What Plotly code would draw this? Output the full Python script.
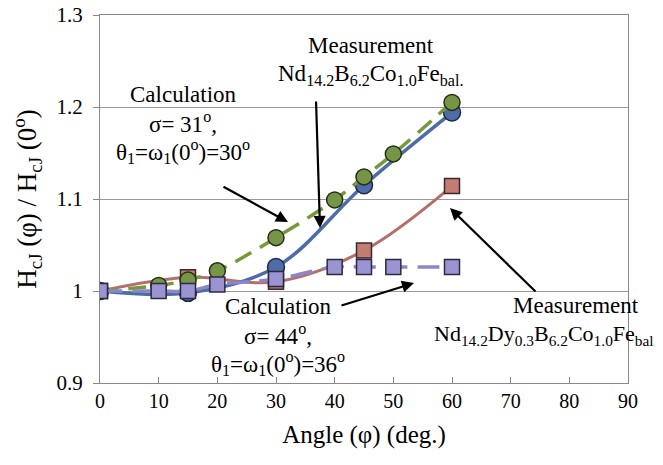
import plotly.graph_objects as go

# Data
meas1_x = [0, 15, 30, 45, 60]
meas1_y = [1.000, 0.998, 1.026, 1.115, 1.194]
calc1_x = [0, 10, 15, 20, 30, 40, 45, 50, 60]
calc1_y = [1.000, 1.006, 1.012, 1.022, 1.058, 1.099, 1.124, 1.149, 1.205]
meas2_x = [0, 15, 30, 45, 60]
meas2_y = [1.000, 1.015, 1.010, 1.044, 1.114]
calc2_x = [0, 10, 15, 20, 30, 40, 45, 50, 60]
calc2_y = [1.000, 1.000, 1.000, 1.007, 1.013, 1.026, 1.026, 1.026, 1.026]

x_ticks = [0, 10, 20, 30, 40, 50, 60, 70, 80, 90]
y_ticks = [0.9, 1.0, 1.1, 1.2, 1.3]
y_ticklabels = ["0.9", "1", "1.1", "1.2", "1.3"]

FONT = "'Liberation Serif', 'Times New Roman', 'DejaVu Serif', serif"
# page body has an 8px offset; figure sized to fill the rest of the window
OFF = 8
W, H = 663 - OFF, 465 - OFF
L, R, T, B = 100 - OFF, 35, 15 - OFF, 82
PW, PH = W - L - R, H - T - B


def px2x(px):
    return (px - OFF - L) / PW * 90


def py2y(py):
    return 1.3 - (py - OFF - T) / PH * 0.4


fig = go.Figure()

fig.add_trace(go.Scatter(
    x=meas2_x, y=meas2_y, mode="lines+markers",
    line=dict(color="#B3706A", width=3, shape="spline"),
    marker=dict(symbol="square", size=15, color="#C27C74",
                line=dict(color="#3a2a2a", width=1.5)),
    showlegend=False))
fig.add_trace(go.Scatter(
    x=meas1_x, y=meas1_y, mode="lines+markers",
    line=dict(color="#4B6CA7", width=3.5, shape="spline"),
    marker=dict(symbol="circle", size=17, color="#4E6DA8",
                line=dict(color="#1f2a40", width=1.5)),
    showlegend=False))
fig.add_trace(go.Scatter(
    x=calc1_x, y=calc1_y, mode="lines+markers",
    line=dict(color="#77983A", width=3.5, dash="18px,10px", shape="spline"),
    marker=dict(symbol="circle", size=16, color="#779546",
                line=dict(color="#25301a", width=1.5)),
    showlegend=False))
fig.add_trace(go.Scatter(
    x=calc2_x, y=calc2_y, mode="lines+markers",
    line=dict(color="#8C86C8", width=3.5, dash="22px,10px", shape="spline"),
    marker=dict(symbol="square", size=15, color="#9A94D2",
                line=dict(color="#2c2a40", width=1.5)),
    showlegend=False))

annotations = []


def text(px, py, s, size=23):
    annotations.append(dict(x=px2x(px), y=py2y(py), xref="x", yref="y",
                            text=s, showarrow=False,
                            font=dict(family=FONT, size=size, color="black"),
                            xanchor="center", yanchor="middle"))


def arrow(hx, hy, tx, ty):
    annotations.append(dict(x=px2x(hx), y=py2y(hy), xref="x", yref="y",
                            ax=px2x(tx), ay=py2y(ty), axref="x", ayref="y",
                            text="", showarrow=True, arrowhead=2,
                            arrowsize=1.1, arrowwidth=2.2, arrowcolor="black"))


text(371, 45, "Measurement")
text(370, 75, "Nd<sub>14.2</sub>B<sub>6.2</sub>Co<sub>1.0</sub>Fe<sub>bal.</sub>")
text(183, 94, "Calculation")
text(183, 122, "σ= 31<sup>o</sup>,")
text(183, 151, "θ<sub>1</sub>=ω<sub>1</sub>(0<sup>o</sup>)=30<sup>o</sup>")
text(278, 306, "Calculation")
text(278, 334, "σ= 44<sup>o</sup>,")
text(278, 363, "θ<sub>1</sub>=ω<sub>1</sub>(0<sup>o</sup>)=36<sup>o</sup>")
text(576, 305, "Measurement")
text(546, 335, "Nd<sub>14.2</sub>Dy<sub>0.3</sub>B<sub>6.2</sub>Co<sub>1.0</sub>Fe<sub>bal.</sub>", size=22)

arrow(288, 222, 222, 186)
arrow(320, 228, 316, 100)
arrow(414, 283, 340, 306)
arrow(450, 208, 537, 293)

fig.update_layout(
    width=W, height=H,
    margin=dict(l=L, r=R, t=T, b=B),
    paper_bgcolor="white", plot_bgcolor="white",
    font=dict(family=FONT, color="black"),
    annotations=annotations,
    xaxis=dict(range=[0, 90], tickvals=x_ticks, ticks="inside", ticklen=6,
               tickcolor="#888", showgrid=False, zeroline=False,
               showline=True, linecolor="#888", linewidth=1.2, mirror=True,
               automargin=False, ticklabeloverflow="allow",
               tickfont=dict(family=FONT, size=20),
               title=dict(text="Angle (φ) (deg.)",
                          font=dict(family=FONT, size=25), standoff=14)),
    yaxis=dict(range=[0.9, 1.3], tickvals=y_ticks, ticktext=y_ticklabels,
               ticks="outside", ticklen=6, tickcolor="#888",
               ticklabelstandoff=6, ticklabeloverflow="allow",
               showgrid=True, gridcolor="#999", gridwidth=1, zeroline=False,
               showline=True, linecolor="#888", linewidth=1.2, mirror=True,
               automargin=False,
               tickfont=dict(family=FONT, size=21),
               title=dict(text="H<sub>cJ</sub> (φ) / H<sub>cJ</sub> (0<sup>o</sup>)",
                          font=dict(family=FONT, size=27), standoff=16)),
)

fig.write_html("out.html")
